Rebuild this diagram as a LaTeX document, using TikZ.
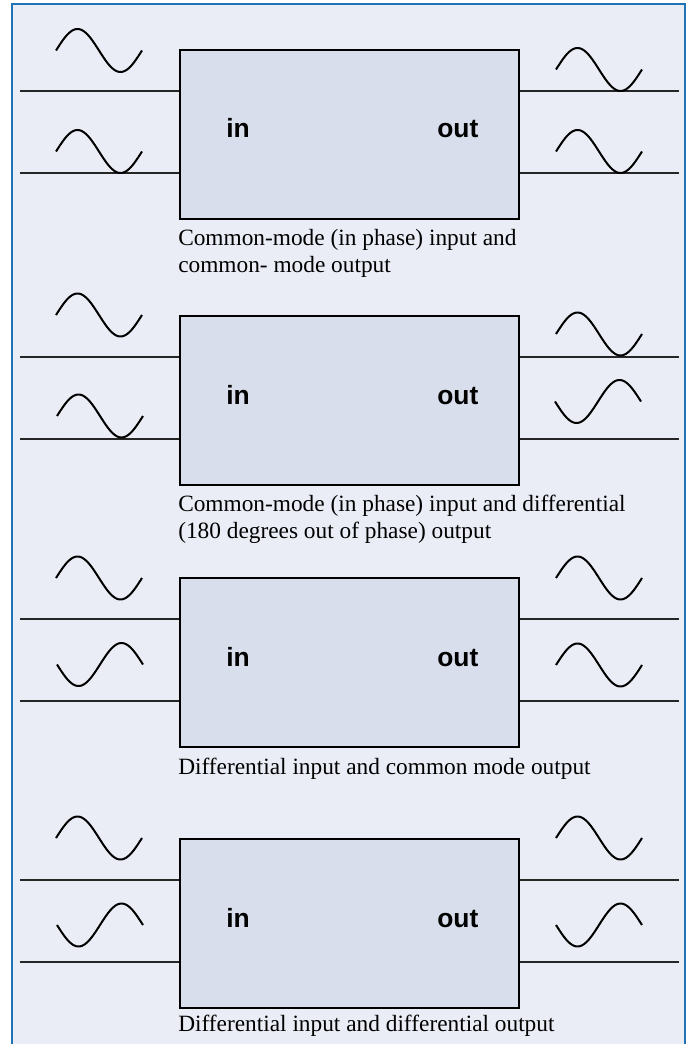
\documentclass[tikz,border=0pt]{standalone}
\usepackage{fontspec}
\setmainfont{Liberation Serif}
\setsansfont{Liberation Sans}
\definecolor{panelbg}{RGB}{234,237,245}
\definecolor{panelrule}{RGB}{32,116,182}
\definecolor{ampfill}{RGB}{216,222,236}
% one period of a sine: start x, centre y, +1 upright / -1 inverted
\newcommand{\wave}[3]{%
  \draw[wave] plot[domain=0:360, samples=50] ({#1+\x/360*86}, {#2-(#3)*21.5*sin(\x)});}

\begin{document}
\begin{tikzpicture}[x=0.75pt, y=-0.75pt,
    amp/.style={draw=black, line width=1.9pt, fill=ampfill, inner sep=0pt,
      minimum width=254.25pt, minimum height=126.75pt},
    wire/.style={line width=1pt, black!85},
    wave/.style={line width=1.5pt, line join=round},
    port/.style={font=\sffamily\bfseries\fontsize{19.8}{24}\selectfont, inner sep=0pt},
    caption/.style={font=\fontsize{17.5}{20.25}\selectfont, inner sep=0pt, align=left}]
  \useasboundingbox (0,0) rectangle (690,1044);
  %\draw[lightgray] (0,0) grid[step=50] (690,1044);
  \fill[white] (0,0) rectangle (690,1044);
  \fill[panelbg] (12,4) rectangle (685,1050);
  \draw[panelrule, line width=1.9pt] (12,1050) -- (12,4) -- (685,4) -- (685,1050);

  % amplifier boxes with their input and output pairs
  \foreach \t [count=\i] in {50,316,578,839} {
    \coordinate (inA\i) at (20, \t+41);
    \coordinate (inB\i) at (20, \t+123);
    \coordinate (outA\i) at (679, \t+41);
    \coordinate (outB\i) at (679, \t+123);
    \node[amp] (amp\i) at (349.5, \t+84.5) {};
    \draw[wire] (inA\i) -- (inA\i -| amp\i.west);
    \draw[wire] (inB\i) -- (inB\i -| amp\i.west);
    \draw[wire] (amp\i.east |- outA\i) -- (outA\i);
    \draw[wire] (amp\i.east |- outB\i) -- (outB\i);
    \node[port, anchor=base west] (in\i) at (226, \t+88) {in};
    \node[port, anchor=base west] (out\i) at (437, \t+88) {out};
  }

  % common-mode in, common-mode out
  \wave{56}{50.5}{1}
  \wave{56}{151.5}{1}
  \wave{556}{69.5}{1}
  \wave{556}{151.5}{1}
  % base of a two-line caption sits on its last line
  \node[caption, anchor=base west] (cap1) at (178, 273)
    {Common-mode (in phase) input and\\common- mode output};

  % common-mode in, differential out
  \wave{56}{315}{1}
  \wave{57}{416}{1}
  \wave{556}{334}{1}
  \wave{555}{401.5}{-1}
  \node[caption, anchor=base west] (cap2) at (178, 538)
    {Common-mode (in phase) input and differential\\(180 degrees out of phase) output};

  % differential in, common-mode out
  \wave{56}{578}{1}
  \wave{57}{664.5}{-1}
  \wave{556}{578}{1}
  \wave{556}{665}{1}
  \node[caption, anchor=base west] (cap3) at (178, 774)
    {Differential input and common mode output};

  % differential in, differential out
  \wave{56}{838}{1}
  \wave{57}{925}{-1}
  \wave{556}{838}{1}
  \wave{556}{925}{-1}
  \node[caption, anchor=base west] (cap4) at (178, 1031)
    {Differential input and differential output};
\end{tikzpicture}
\end{document}
